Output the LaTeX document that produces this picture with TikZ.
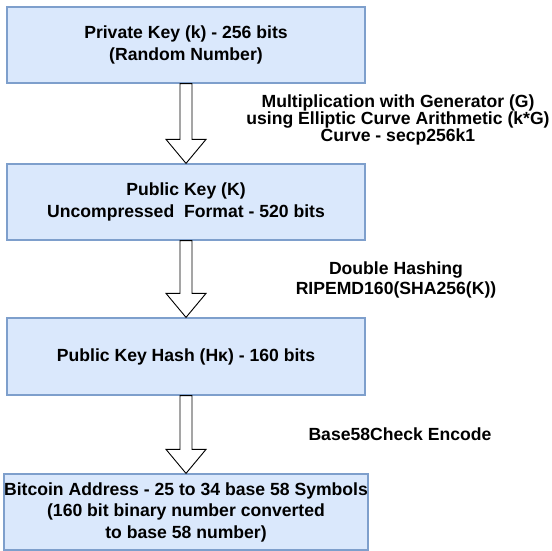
\documentclass[tikz,border=0pt]{standalone}
\usepackage{fontspec}
\setmainfont{Liberation Sans}
\usetikzlibrary{calc}

\definecolor{boxfill}{HTML}{DAE8FC}
\definecolor{boxline}{HTML}{7E9FCC}

\tikzset{
  keybox/.style={draw=boxline, fill=boxfill, line width=1.2pt,
    minimum width=358pt, inner sep=0pt, align=center,
    font=\bfseries\fontsize{17.6}{21.5}\selectfont},
  steplabel/.style={align=center, inner sep=0pt,
    font=\bfseries\fontsize{17.6}{17}\selectfont},
  arrowline/.style={draw=black, fill=white, line width=0.9pt, line join=miter}
}

% hollow block arrow from the bottom of #1 to the top of #2
\newcommand{\blockarrow}[2]{%
  \draw[arrowline] let \p1=(#1.south), \p2=(#2.north) in
    (\x1-6pt,\y1) -- (\x1-6pt,\y2+24pt) -- (\x1-20pt,\y2+24pt) -- (\x1,\y2)
    -- (\x1+20pt,\y2+24pt) -- (\x1+6pt,\y2+24pt) -- (\x1+6pt,\y1) -- cycle;}

\begin{document}
\begin{tikzpicture}
    \useasboundingbox (0,0) rectangle (551pt,551pt);

    % Kästen
    \node[keybox, minimum height=76pt] (priv) at (186pt,506pt)
      {Private Key (k) - 256 bits\\(Random Number)};
    \node[keybox, minimum height=76pt] (pub) at (186pt,349pt)
      {Public Key (K)\\Uncompressed\ \ Format - 520 bits};
    \node[keybox, minimum height=77pt] (hash) at (186pt,194.5pt)
      {Public Key Hash (Hκ) - 160 bits};
    \node[keybox, minimum height=76pt] (addr) at (186pt,39pt)
      {Bitcoin Address - 25 to 34 base 58 Symbols\\(160 bit binary number converted\\to base 58 number)};

    % Pfeile
    \blockarrow{priv}{pub}
    \blockarrow{pub}{hash}
    \blockarrow{hash}{addr}

    % Beschriftungen
    \node[steplabel] (mult) at (398pt,431pt)
      {Multiplication with Generator (G)\\using Elliptic Curve Arithmetic (k*G)\\Curve - secp256k1};
    \node[steplabel, font=\bfseries\fontsize{17.6}{20}\selectfont] (dhash) at (396pt,271pt)
      {Double Hashing\\RIPEMD160(SHA256(K))};
    \node[steplabel] (enc) at (400pt,117pt) {Base58Check Encode};
\end{tikzpicture}
\end{document}
